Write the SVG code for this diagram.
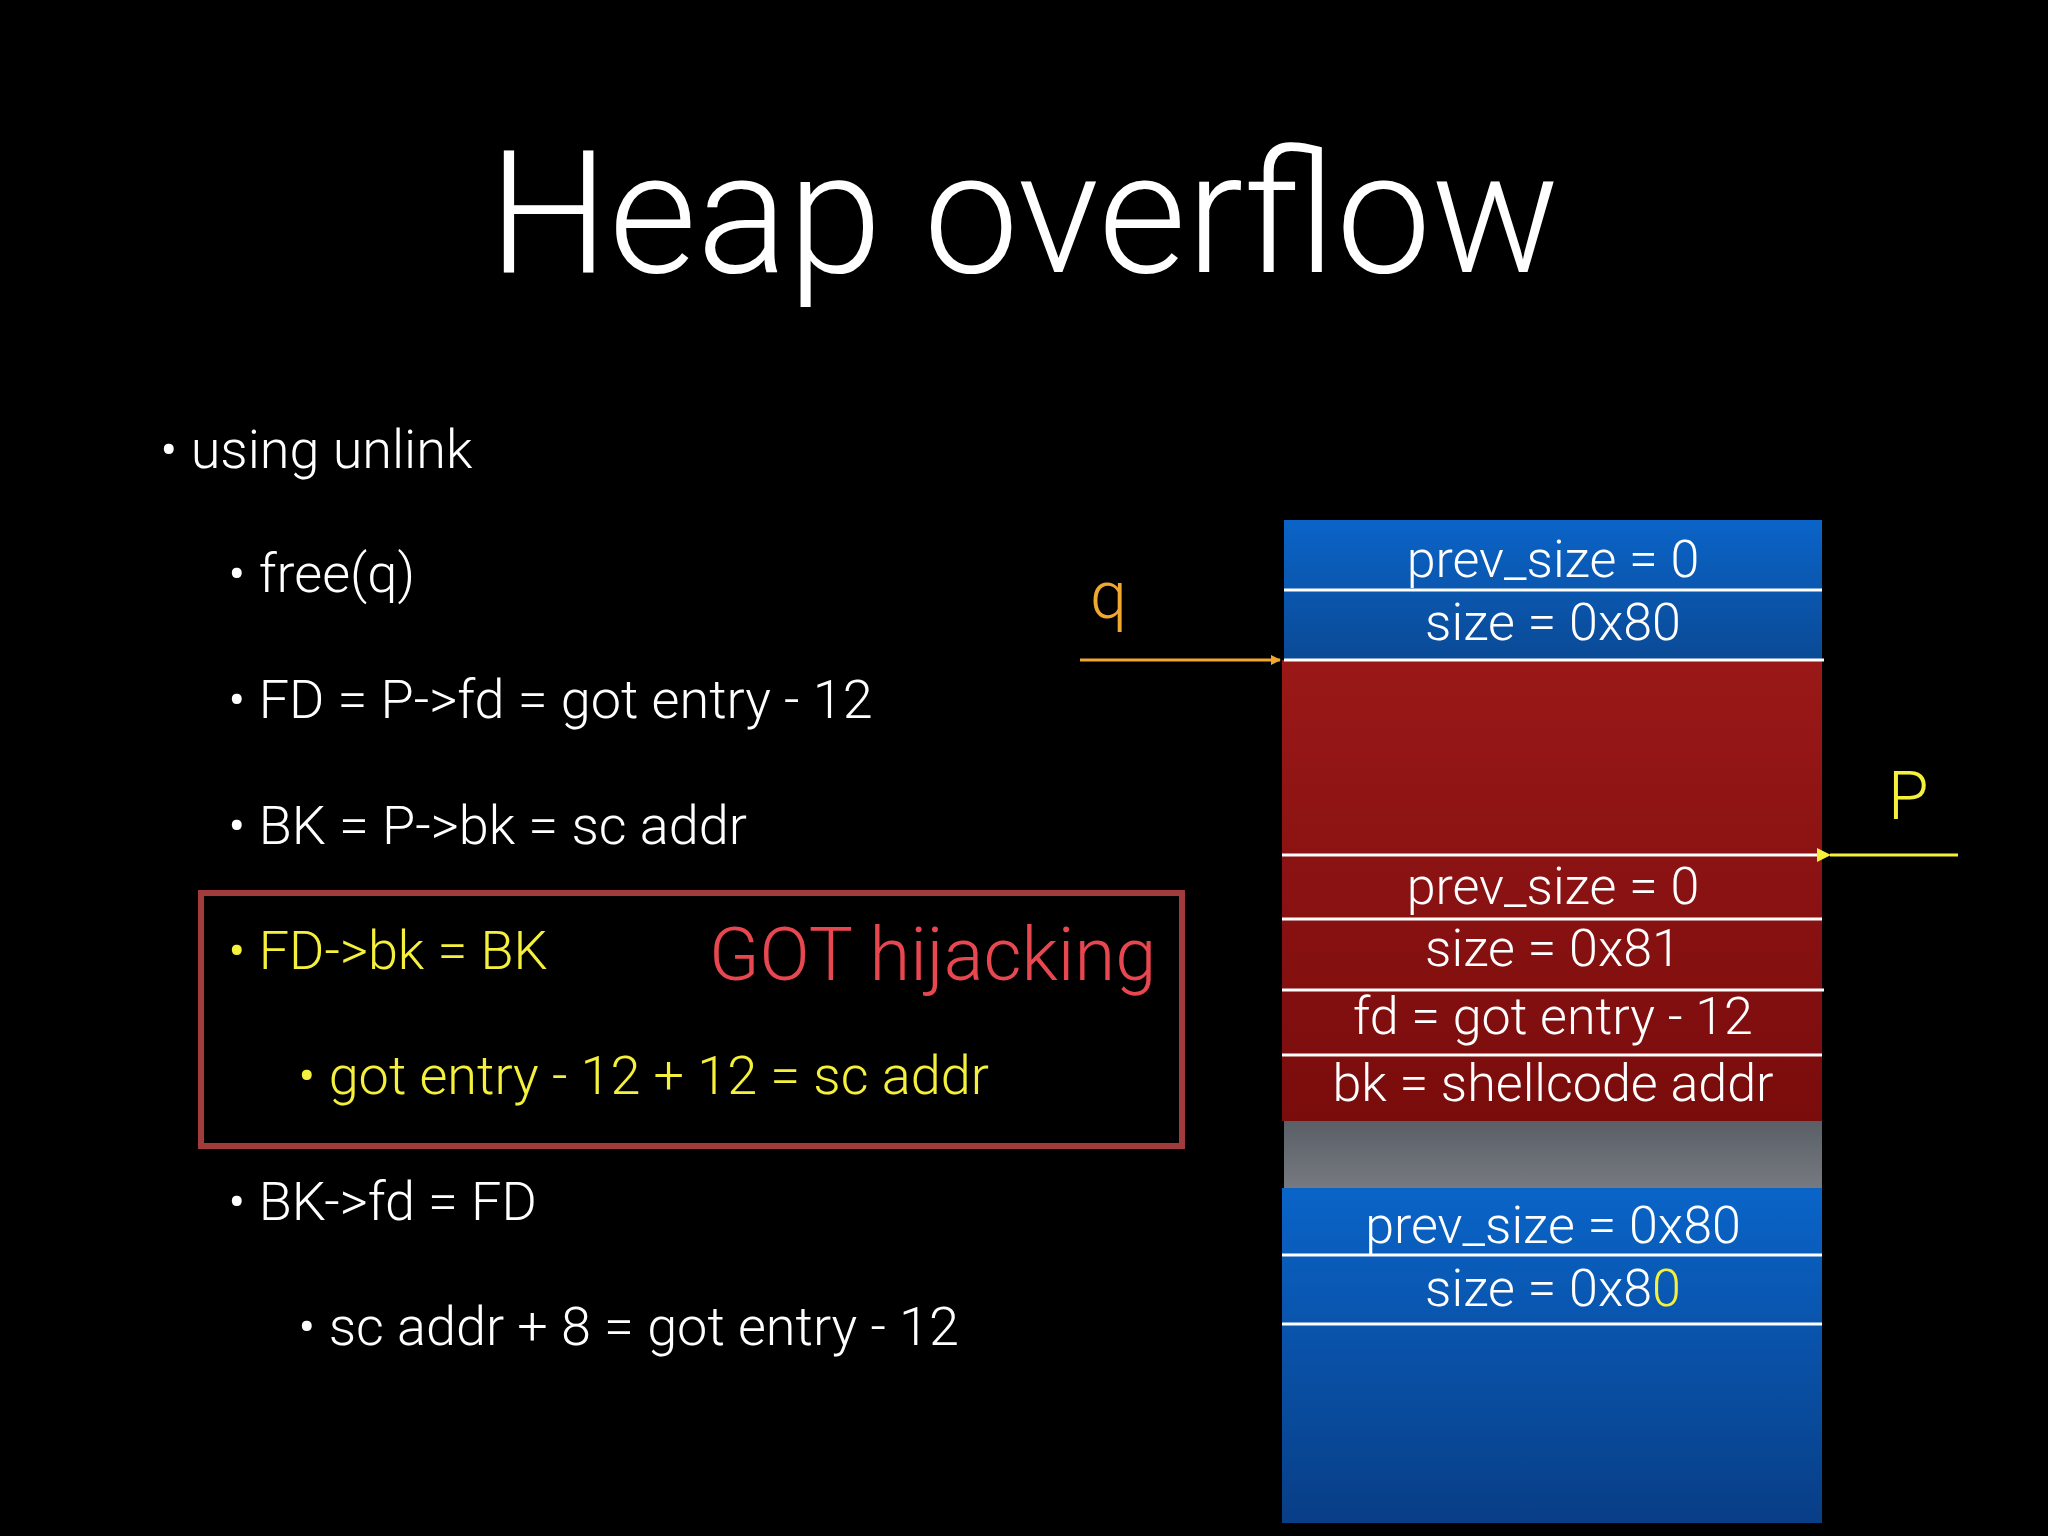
<svg xmlns="http://www.w3.org/2000/svg" width="2048" height="1536" viewBox="0 0 2048 1536">
<defs>
<style>
text{font-family:Roboto,"Liberation Sans",sans-serif;font-weight:300}
.b{font-size:54px;fill:#fff}
.y{fill:#f5f03c}
.m{font-size:52px;fill:#fff;text-anchor:middle}
.ln{stroke:#fff;stroke-width:3}
</style>
<linearGradient id="blue" x1="0" y1="0" x2="0" y2="1"><stop offset="0" stop-color="#0a64c8"/><stop offset="1" stop-color="#0a4a96"/></linearGradient>
<linearGradient id="red" x1="0" y1="0" x2="0" y2="1"><stop offset="0" stop-color="#9a1818"/><stop offset="1" stop-color="#7a0c0c"/></linearGradient>
<linearGradient id="gray" x1="0" y1="0" x2="0" y2="1"><stop offset="0" stop-color="#5a5e66"/><stop offset="1" stop-color="#767a80"/></linearGradient>
<linearGradient id="blue2" x1="0" y1="0" x2="0" y2="1"><stop offset="0" stop-color="#0a64c8"/><stop offset="1" stop-color="#083e86"/></linearGradient>
<marker id="ao" markerWidth="10" markerHeight="10" refX="9" refY="5" orient="auto" markerUnits="userSpaceOnUse"><path d="M0,0 L10,5 L0,10 z" fill="#f0a830"/></marker>
<marker id="ay" markerWidth="14" markerHeight="14" refX="1" refY="7" orient="auto" markerUnits="userSpaceOnUse"><path d="M14,0 L0,7 L14,14 z" fill="#f5f03c"/></marker>
</defs>
<rect width="2048" height="1536" fill="#000"/>
<text x="1024" y="272" font-size="170" fill="#fff" text-anchor="middle">Heap overflow</text>
<g id="bullets">
<text class="b" x="160" y="468">•  using unlink</text>
<text class="b" x="228" y="592">•  free(q)</text>
<text class="b" x="228" y="718">•  FD = P-&gt;fd = got entry - 12</text>
<text class="b" x="228" y="844">•  BK = P-&gt;bk = sc addr</text>
<text class="b y" x="228" y="969">•  FD-&gt;bk = BK</text>
<text class="b y" x="298" y="1094">•  got entry - 12 + 12 = sc addr</text>
<text class="b" x="228" y="1220">•  BK-&gt;fd = FD</text>
<text class="b" x="298" y="1345">•  sc addr + 8 = got entry - 12</text>
</g>
<g id="got">
<rect x="201" y="893" width="981" height="253" fill="none" stroke="#a23c3c" stroke-width="6"/>
<text x="709" y="980" font-size="74" fill="#e8474f">GOT hijacking</text>
</g>
<g id="memory">
<rect x="1284" y="520" width="538" height="140" fill="url(#blue)"/>
<rect x="1282" y="660" width="540" height="461" fill="url(#red)"/>
<rect x="1284" y="1121" width="538" height="67" fill="url(#gray)"/>
<rect x="1282" y="1188" width="540" height="335" fill="url(#blue2)"/>
<line class="ln" x1="1284" y1="590" x2="1822" y2="590"/>
<line class="ln" x1="1284" y1="660" x2="1824" y2="660"/>
<line class="ln" x1="1282" y1="855" x2="1822" y2="855"/>
<line class="ln" x1="1282" y1="919" x2="1822" y2="919"/>
<line class="ln" x1="1282" y1="990" x2="1824" y2="990"/>
<line class="ln" x1="1282" y1="1055" x2="1822" y2="1055"/>
<line class="ln" x1="1282" y1="1255" x2="1822" y2="1255"/>
<line class="ln" x1="1282" y1="1324" x2="1822" y2="1324"/>
<text class="m" x="1553" y="577">prev_size = 0</text>
<text class="m" x="1553" y="640">size = 0x80</text>
<text class="m" x="1553" y="904">prev_size = 0</text>
<text class="m" x="1553" y="966">size = 0x81</text>
<text class="m" x="1553" y="1034">fd = got entry - 12</text>
<text class="m" x="1553" y="1101">bk = shellcode addr</text>
<text class="m" x="1553" y="1243">prev_size = 0x80</text>
<text class="m" x="1553" y="1306">size = 0x8<tspan class="y">0</tspan></text>
</g>
<g id="connectors">
<text x="1090" y="618" font-size="66" fill="#f0a830">q</text>
<line x1="1080" y1="660" x2="1280" y2="660" stroke="#f0a830" stroke-width="3" marker-end="url(#ao)"/>
<text x="1888" y="819" font-size="66" fill="#f5f03c">P</text>
<line x1="1958" y1="855" x2="1830" y2="855" stroke="#f5f03c" stroke-width="3" marker-end="url(#ay)"/>
</g>
</svg>
